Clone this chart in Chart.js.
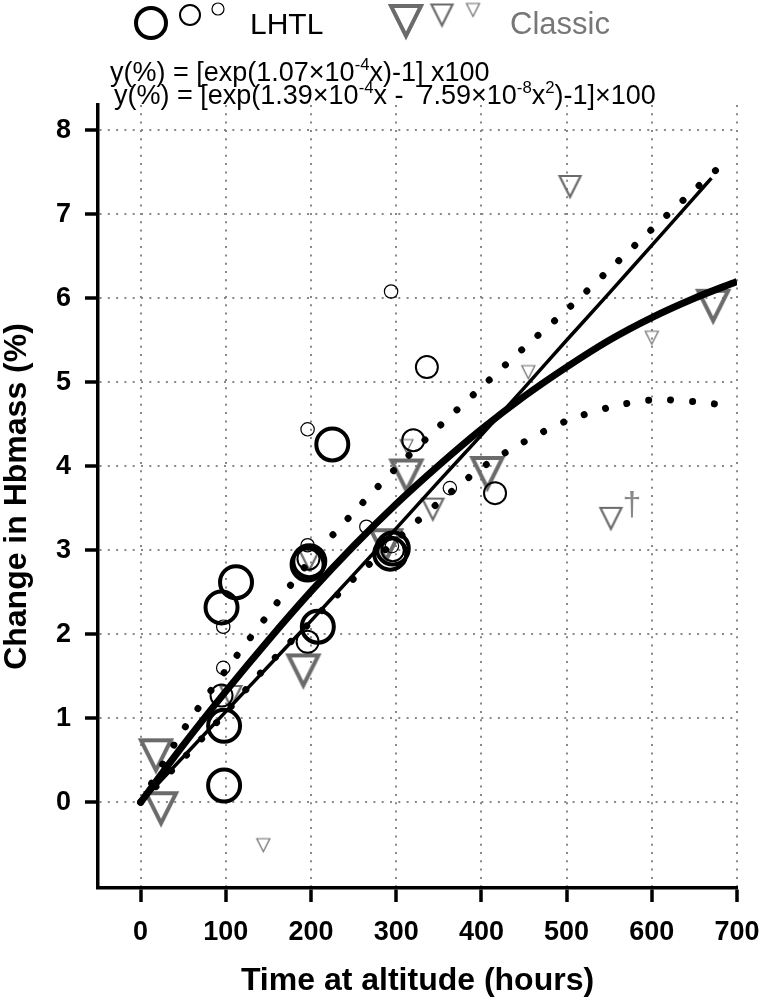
<!DOCTYPE html>
<html>
<head>
<meta charset="utf-8">
<script src="https://cdn.jsdelivr.net/npm/chart.js@4.4.0/dist/chart.umd.min.js"></script>
<style>
  html, body { margin: 0; padding: 0; background: #fff; }
</style>
</head>
<body>
<canvas id="hb" width="760" height="1000"></canvas>
<script>
// values
const xTicks = [0, 100, 200, 300, 400, 500, 600, 700]
const yTicks = [0, 1, 2, 3, 4, 5, 6, 7, 8]

// LHTL studies (circles), by marker size
const lhtlLargeX = [98, 98, 95, 112, 196, 198, 208, 225, 293, 296]
const lhtlLargeY = [0.20, 0.91, 2.32, 2.62, 2.83, 2.87, 2.09, 4.26, 2.96, 3.02]
const lhtlMedX = [95, 196, 197, 296, 320, 336, 416]
const lhtlMedY = [1.27, 1.91, 2.90, 3.00, 4.31, 5.18, 3.68]
const lhtlSmallX = [97, 97, 196, 196, 265, 294, 295, 363]
const lhtlSmallY = [1.60, 2.09, 3.06, 4.44, 3.28, 6.08, 3.05, 3.74]

// Classic studies (triangles), by marker size
const classicLargeX = [18, 24, 191, 288, 312, 407, 672]
const classicLargeY = [0.56, -0.07, 1.57, 3.06, 3.89, 3.92, 5.91]
const classicMedX = [106, 198, 343, 504, 552]
const classicMedY = [1.26, 2.89, 3.49, 7.33, 3.38]
const classicSmallX = [144, 312, 455, 600]
const classicSmallY = [-0.51, 4.24, 5.12, 5.53]

// fitted curves and dotted band
const thinX = [0, 50, 100, 150, 200, 250, 300, 350, 400, 450, 500, 550, 600, 650, 670]
const thinY = [0, 0.54, 1.08, 1.62, 2.16, 2.71, 3.26, 3.82, 4.37, 4.93, 5.50, 6.06, 6.63, 7.20, 7.43]
const thickX = [0, 50, 100, 150, 200, 250, 300, 350, 400, 450, 500, 550, 600, 650, 700]
const thickY = [0, 0.68, 1.32, 1.93, 2.51, 3.05, 3.55, 4.01, 4.44, 4.83, 5.18, 5.50, 5.77, 6.00, 6.20]
const upperX = [0, 50, 100, 150, 200, 250, 300, 350, 400, 450, 500, 550, 600, 650, 690]
const upperY = [0, 0.86, 1.57, 2.24, 2.89, 3.45, 3.98, 4.47, 4.94, 5.41, 5.86, 6.34, 6.82, 7.29, 7.66]
const lowerX = [0, 50, 100, 150, 200, 250, 300, 350, 400, 450, 500, 550, 600, 650, 690]
const lowerY = [0, 0.52, 1.07, 1.64, 2.15, 2.66, 3.12, 3.57, 3.98, 4.29, 4.54, 4.70, 4.79, 4.77, 4.72]

const GREY = '#6b6b6b'
const FONT = '"Liberation Sans", Arial, sans-serif'

const pts = (xs, ys) => xs.map((x, i) => ({ x, y: ys[i] }))

// downward open triangle as a point image
function triangle(size, lw) {
  const pad = Math.ceil(lw * 2 + 2)
  const c = document.createElement('canvas')
  c.width = c.height = Math.ceil(size) + pad * 2
  const g = c.getContext('2d')
  g.strokeStyle = GREY
  g.lineWidth = lw
  g.lineJoin = 'miter'
  g.beginPath()
  g.moveTo(pad, pad)
  g.lineTo(pad + size, pad)
  g.lineTo(pad + size / 2, pad + size)
  g.closePath()
  g.stroke()
  return c
}

const triLarge = triangle(30, 4)
const triMed = triangle(21, 2.2)
const triSmall = triangle(13, 1.2)

function curve(xs, ys, width, dotted) {
  return {
    data: pts(xs, ys),
    showLine: true,
    pointRadius: 0,
    borderColor: '#000',
    borderWidth: width,
    borderDash: dotted ? [0.01, 22] : [],
    borderCapStyle: dotted ? 'round' : 'butt',
    tension: 0.3
  }
}

function circles(xs, ys, r, lw) {
  return {
    data: pts(xs, ys),
    pointStyle: 'circle',
    pointRadius: r,
    pointBorderWidth: lw,
    pointBorderColor: '#000',
    pointBackgroundColor: 'rgba(0,0,0,0)'
  }
}

function tris(xs, ys, img) {
  return { data: pts(xs, ys), pointStyle: img, pointRadius: 12 }
}

// superscript-aware text
function richText(ctx, x, y, parts, size) {
  let cx = x
  parts.forEach(([t, sup]) => {
    const s = sup ? size * 0.62 : size
    ctx.font = `${s}px ${FONT}`
    ctx.fillText(t, cx, sup ? y - size * 0.42 : y)
    cx += ctx.measureText(t).width
  })
}

const extras = {
  id: 'extras',
  afterDraw(chart) {
    const { ctx, chartArea, scales: { x, y } } = chart
    ctx.save()

    // legend
    ctx.strokeStyle = '#000'
    ;[[151, 23, 15, 4], [190, 15, 10, 2], [218, 9, 6, 1.2]].forEach(([cx, cy, r, lw]) => {
      ctx.lineWidth = lw
      ctx.beginPath()
      ctx.arc(cx, cy, r, 0, Math.PI * 2)
      ctx.stroke()
    })
    ctx.fillStyle = '#000'
    ctx.font = `30px ${FONT}`
    ctx.textBaseline = 'alphabetic'
    ctx.fillText('LHTL', 250, 34)
    ctx.drawImage(triLarge, 406 - triLarge.width / 2, 21 - triLarge.height / 2)
    ctx.drawImage(triMed, 442 - triMed.width / 2, 15 - triMed.height / 2)
    ctx.drawImage(triSmall, 473 - triSmall.width / 2, 10 - triSmall.height / 2)
    ctx.fillStyle = '#777'
    ctx.font = `31px ${FONT}`
    ctx.fillText('Classic', 510, 34)

    // fit equations
    ctx.fillStyle = '#000'
    richText(ctx, 110, 81, [['y(%) = [exp(1.07\u00d710', 0], ['-4', 1], ['x)-1] x100', 0]], 27)
    richText(ctx, 114, 104, [['y(%) = [exp(1.39\u00d710', 0], ['-4', 1], ['x -  7.59\u00d710', 0], ['-8', 1], ['x', 0], ['2', 1], [')-1]\u00d7100', 0]], 27)

    // dagger next to the flagged classic study
    ctx.fillStyle = '#888'
    ctx.font = `34px ${FONT}`
    ctx.textAlign = 'center'
    ctx.fillText('\u2020', x.getPixelForValue(552) + 21, y.getPixelForValue(3.38) - 3)

    // axis titles
    ctx.fillStyle = '#000'
    ctx.font = `bold 32px ${FONT}`
    ctx.fillText('Time at altitude (hours)', (chartArea.left + chartArea.right) / 2, 990)
    ctx.translate(26, (chartArea.top + chartArea.bottom) / 2)
    ctx.rotate(-Math.PI / 2)
    ctx.fillText('Change in Hbmass (%)', 0, 0)
    ctx.restore()
  }
}

new Chart(document.getElementById('hb'), {
  type: 'scatter',
  data: {
    datasets: [
      curve(thickX, thickY, 7, false),
      curve(thinX, thinY, 3.5, false),
      curve(upperX, upperY, 7, true),
      curve(lowerX, lowerY, 7, true),
      circles(lhtlLargeX, lhtlLargeY, 16, 4),
      circles(lhtlMedX, lhtlMedY, 11, 2),
      circles(lhtlSmallX, lhtlSmallY, 6.7, 1.2),
      tris(classicLargeX, classicLargeY, triLarge),
      tris(classicMedX, classicMedY, triMed),
      tris(classicSmallX, classicSmallY, triSmall)
    ]
  },
  options: {
    responsive: false,
    animation: false,
    devicePixelRatio: 1,
    layout: { padding: { top: 105, right: 23, left: 0, bottom: 0 } },
    plugins: { legend: { display: false }, tooltip: { enabled: false } },
    scales: {
      x: {
        type: 'linear',
        min: -50,
        max: 700,
        afterFit: s => { s.height = 112; s.paddingLeft = 0; s.paddingRight = 0 },
        afterBuildTicks: s => { s.ticks = xTicks.map(v => ({ value: v })) },
        grid: { color: '#888', lineWidth: 2, tickLength: 14, tickColor: '#000', tickWidth: 3.5 },
        border: { display: true, color: '#000', width: 3.5, dash: [2, 6.3] },
        ticks: { color: '#000', padding: 14, maxRotation: 0, font: { family: FONT, size: 27, weight: 'bold' } }
      },
      y: {
        type: 'linear',
        min: -1.02,
        max: 8.3,
        afterFit: s => { s.width = 98; s.paddingTop = 0; s.paddingBottom = 0 },
        afterBuildTicks: s => { s.ticks = yTicks.map(v => ({ value: v })) },
        grid: { color: '#888', lineWidth: 2, tickLength: 13, tickColor: '#000', tickWidth: 3.5 },
        border: { display: true, color: '#000', width: 3.5, dash: [2, 6.3] },
        ticks: { color: '#000', padding: 14, font: { family: FONT, size: 27, weight: 'bold' } }
      }
    }
  },
  plugins: [extras]
})
</script>
</body>
</html>
